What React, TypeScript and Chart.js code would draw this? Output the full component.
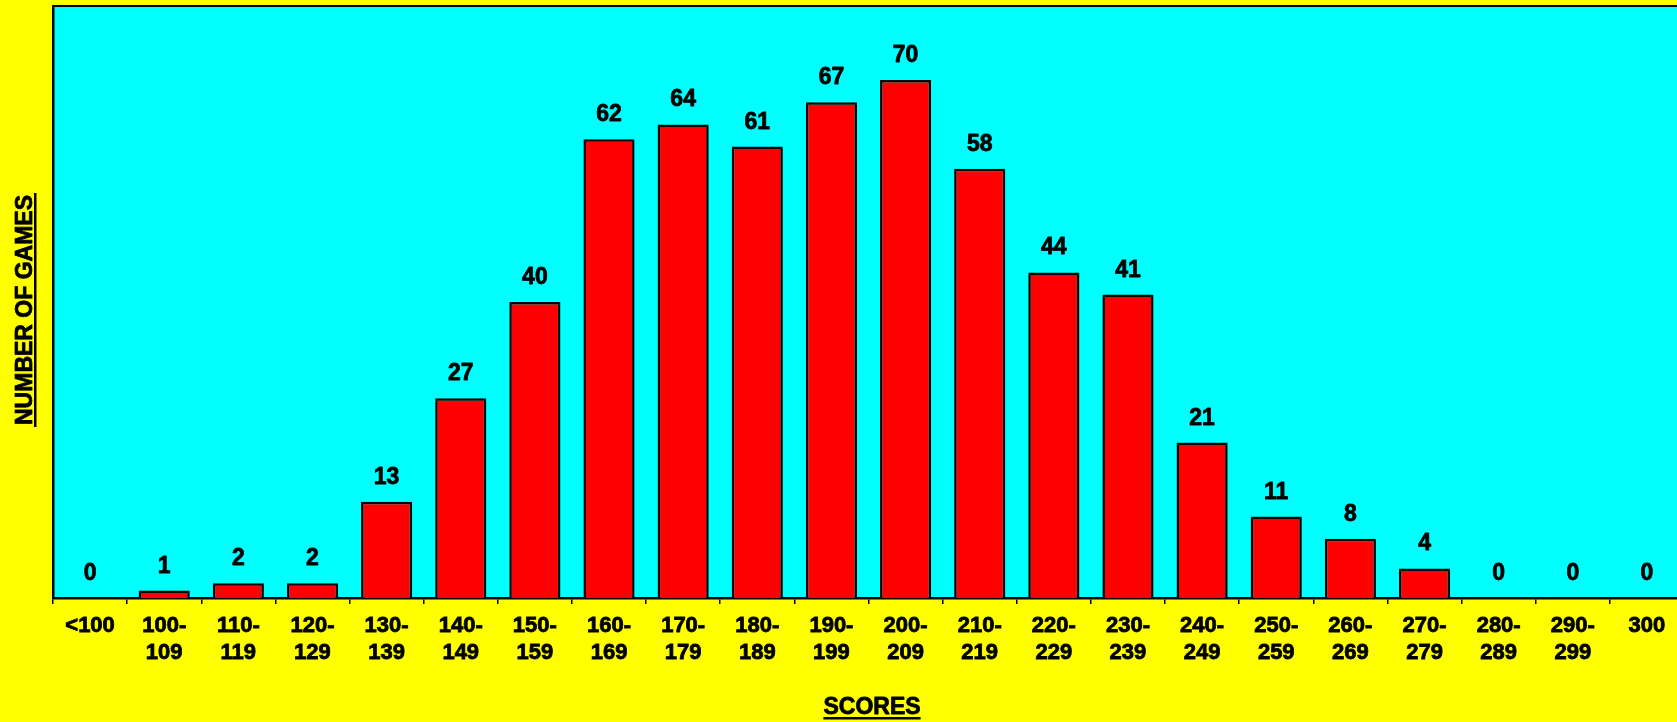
import React, { useEffect, useRef } from "react";
import { Chart, registerables } from "chart.js";

Chart.register(...registerables);

const categories: (string | string[])[] = [
  "<100",
  ["100-", "109"],
  ["110-", "119"],
  ["120-", "129"],
  ["130-", "139"],
  ["140-", "149"],
  ["150-", "159"],
  ["160-", "169"],
  ["170-", "179"],
  ["180-", "189"],
  ["190-", "199"],
  ["200-", "209"],
  ["210-", "219"],
  ["220-", "229"],
  ["230-", "239"],
  ["240-", "249"],
  ["250-", "259"],
  ["260-", "269"],
  ["270-", "279"],
  ["280-", "289"],
  ["290-", "299"],
  "300",
];

const games: number[] = [0, 1, 2, 2, 13, 27, 40, 62, 64, 61, 67, 70, 58, 44, 41, 21, 11, 8, 4, 0, 0, 0];

const xTitle = "SCORES";
const yTitle = "NUMBER OF GAMES";
const yMax = 80;

const FONT = "Arial, 'Liberation Sans', Helvetica, sans-serif";

export default function App() {
  const ref = useRef<HTMLCanvasElement | null>(null);

  useEffect(() => {
    document.body.style.margin = "0";
    const canvas = ref.current;
    if (!canvas) return;

    const boldText = (ctx: any, s: string, x: number, y: number) => {
      ctx.strokeText(s, x, y);
      ctx.fillText(s, x, y);
    };

    const bgPlugin = {
      id: "bg",
      beforeDraw(chart: any) {
        const { ctx, chartArea } = chart;
        ctx.save();
        ctx.fillStyle = "#ffff00";
        ctx.fillRect(0, 0, chart.width, chart.height);
        ctx.fillStyle = "#00ffff";
        ctx.fillRect(chartArea.left, chartArea.top, chartArea.right - chartArea.left, chartArea.bottom - chartArea.top);
        ctx.restore();
      },
      afterDraw(chart: any) {
        const { ctx, chartArea } = chart;
        ctx.save();
        ctx.strokeStyle = "#000";
        ctx.lineWidth = 2;
        ctx.beginPath();
        ctx.moveTo(chartArea.left, chartArea.top);
        ctx.lineTo(chartArea.right, chartArea.top);
        ctx.lineTo(chartArea.right, chartArea.bottom);
        ctx.stroke();

        // titles
        ctx.fillStyle = "#000";
        ctx.strokeStyle = "#000";
        ctx.lineWidth = 0.8;
        ctx.lineJoin = "round";
        ctx.font = `bold 23px ${FONT}`;
        ctx.textAlign = "center";
        ctx.textBaseline = "alphabetic";
        // x title
        const xw = ctx.measureText(xTitle).width;
        const xc = 872;
        boldText(ctx, xTitle, xc, 714);
        ctx.fillRect(xc - xw / 2, 717, xw, 2.5);
        // y title
        ctx.translate(32, 310);
        ctx.rotate(-Math.PI / 2);
        const yw = ctx.measureText(yTitle).width;
        boldText(ctx, yTitle, 0, 0);
        ctx.fillRect(-yw / 2 - 2, 2, yw + 4, 2.5);
        ctx.restore();
      },
      afterDatasetsDraw(chart: any) {
        const { ctx } = chart;
        const meta = chart.getDatasetMeta(0);
        ctx.save();
        ctx.fillStyle = "#000";
        ctx.strokeStyle = "#000";
        ctx.lineWidth = 0.8;
        ctx.lineJoin = "round";
        ctx.font = `bold 23px ${FONT}`;
        ctx.textAlign = "center";
        ctx.textBaseline = "alphabetic";
        meta.data.forEach((bar: any, i: number) => {
          boldText(ctx, String(games[i]), bar.x, bar.y - 18);
        });
        ctx.restore();
      },
    };

    const chart = new Chart(canvas, {
      type: "bar",
      data: {
        labels: categories,
        datasets: [
          {
            data: games,
            backgroundColor: "#ff0000",
            borderColor: "#000000",
            borderWidth: 2.5,
            categoryPercentage: 1,
            barPercentage: 0.69,
          },
        ],
      },
      options: {
        animation: false,
        responsive: false,
        devicePixelRatio: 1,
        layout: { padding: { top: 6, left: 0, right: 2, bottom: 0 } },
        plugins: { legend: { display: false }, tooltip: { enabled: false } },
        scales: {
          x: {
            offset: true,
            grid: {
              display: true,
              drawOnChartArea: false,
              drawTicks: true,
              tickLength: 6,
              color: "#000",
              lineWidth: 1.5,
              offset: true,
            },
            border: { display: true, color: "#000", width: 2.5 },
            ticks: {
              color: "#000",
              font: { family: FONT, weight: "bold", size: 22, lineHeight: 1.2 },
              padding: 9,
              maxRotation: 0,
              minRotation: 0,
              autoSkip: false,
              textStrokeColor: "#000",
              textStrokeWidth: 0.8,
            },
            afterFit(scale: any) {
              scale.height = 124;
            },
          },
          y: {
            min: 0,
            max: yMax,
            grid: { display: false },
            ticks: { display: false },
            border: { display: true, color: "#000", width: 2.5 },
            afterFit(scale: any) {
              scale.width = 53;
            },
          },
        },
      },
      plugins: [bgPlugin],
    });

    return () => chart.destroy();
  }, []);

  return (
    <div style={{ width: 1677, height: 722, overflow: "hidden", position: "relative" }}>
      <canvas ref={ref} width={1686} height={722} style={{ display: "block", width: 1686, height: 722 }} />
    </div>
  );
}
